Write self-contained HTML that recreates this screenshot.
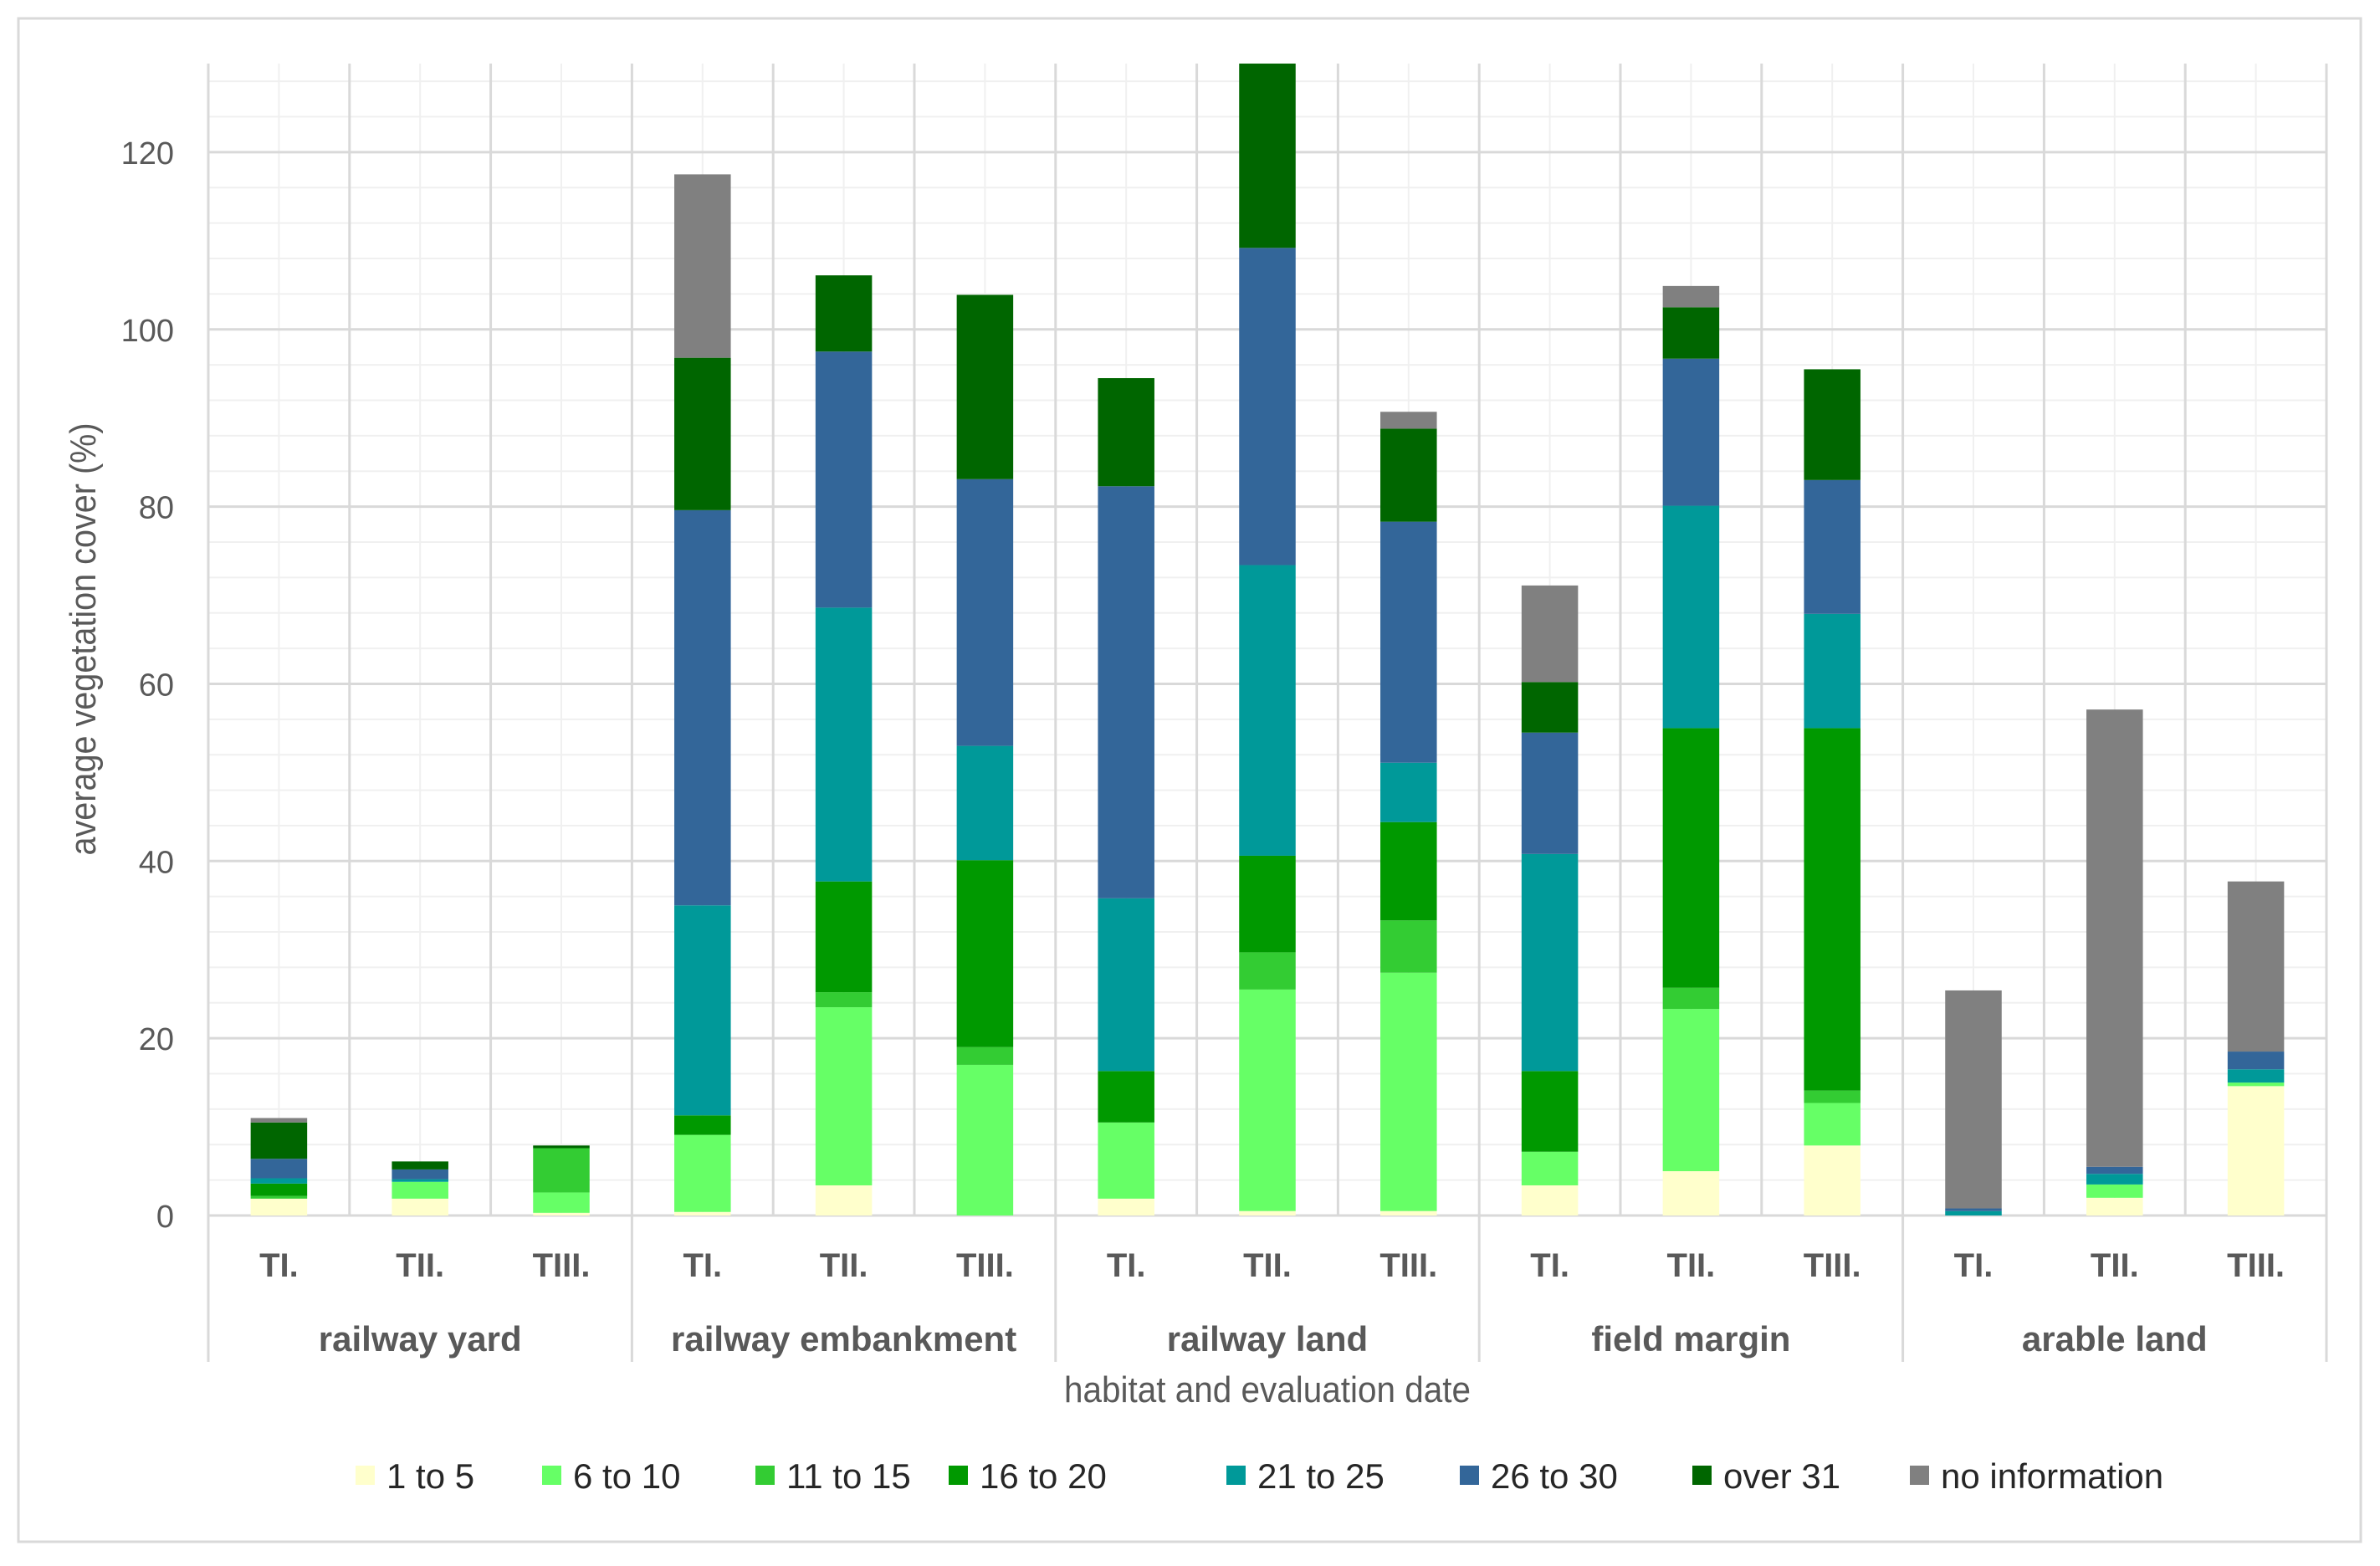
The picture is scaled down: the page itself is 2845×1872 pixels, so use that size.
<!DOCTYPE html>
<html><head><meta charset="utf-8"><style>
html,body{margin:0;padding:0;background:#fff;}
svg{display:block;font-family:"Liberation Sans",sans-serif;}
</style></head><body>
<svg id="chart" width="2845" height="1872" viewBox="0 0 2845 1872" xmlns="http://www.w3.org/2000/svg">
<rect x="22" y="22" width="2800" height="1821" fill="#fff" stroke="#d9d9d9" stroke-width="3"/>
<g id="grid"></g><g id="bars"></g><g id="axes"></g><g id="legend"></g>
<text transform="translate(114,764) rotate(-90) scale(0.9,1)" text-anchor="middle" font-size="44" fill="#595959">average vegetation cover (%)</text>
<text transform="translate(1515,1676) scale(0.92,1)" text-anchor="middle" font-size="44" fill="#595959">habitat and evaluation date</text>
</svg>
<script>
const groups = ["railway yard","railway embankment","railway land","field margin","arable land"];
const dates = ["TI.","TII.","TIII."];
const seriesNames = ["1 to 5","6 to 10","11 to 15","16 to 20","21 to 25","26 to 30","over 31","no information"];
const seriesColors = ["#FFFFCC","#66FF66","#33CC33","#009900","#009999","#336699","#006600","#808080"];
const s1to5   = [1.9,1.9,0.3, 0.4,3.4,0, 1.9,0.5,0.5, 3.4,5.0,7.9, 0,2.0,14.6];
const s6to10  = [0,1.9,2.3, 8.7,20.1,17.0, 8.6,25.0,26.9, 3.8,18.3,4.8, 0,1.5,0.4];
const s11to15 = [0.3,0,5.0, 0,1.7,2.0, 0,4.2,5.9, 0,2.4,1.4, 0,0,0];
const s16to20 = [1.4,0,0, 2.2,12.5,21.1, 5.8,10.9,11.1, 9.1,29.3,40.9, 0,0,0];
const s21to25 = [0.6,0.3,0, 23.7,30.9,12.9, 19.5,32.8,6.7, 24.5,25.1,12.9, 0.5,1.2,1.5];
const s26to30 = [2.2,1.1,0, 44.6,28.9,30.1, 46.5,35.8,27.2, 13.7,16.6,15.1, 0.3,0.8,2.0];
const sOver31 = [4.1,0.9,0.3, 17.2,8.6,20.8, 12.2,20.9,10.5, 5.7,5.8,12.5, 0,0,0];
const sNoInfo = [0.5,0,0, 20.7,0,0, 0,0,1.9, 10.9,2.4,0, 24.6,51.6,19.2];
const yTicks = [0,20,40,60,80,100,120];
const series = [s1to5,s6to10,s11to15,s16to20,s21to25,s26to30,sOver31,sNoInfo];

const NS="http://www.w3.org/2000/svg";
const L=249,R=2781,T=76,B=1453,YMAX=130;
const nSlots=groups.length*dates.length, slotW=(R-L)/nSlots, barW=slotW*0.4;
const y=v=>B-(v/YMAX)*(B-T);
const xc=i=>L+slotW*(i+0.5);
function mk(tag,attrs,parent){const e=document.createElementNS(NS,tag);for(const k in attrs)e.setAttribute(k,attrs[k]);parent.appendChild(e);return e;}
const grid=document.getElementById('grid'),bars=document.getElementById('bars'),axes=document.getElementById('axes'),legend=document.getElementById('legend');
for(let v=4;v<=YMAX;v+=4){if(v%20===0)continue;const l=mk('line',{x1:L,x2:R,y1:y(v),y2:y(v),stroke:'#f0f0f0','stroke-width':2},grid);

}
for(let i=0;i<nSlots;i++){const l=mk('line',{x1:xc(i),x2:xc(i),y1:T,y2:B,stroke:'#f0f0f0','stroke-width':2},grid);

}
yTicks.forEach(v=>{const l=mk('line',{x1:L,x2:R,y1:y(v),y2:y(v),stroke:'#d9d9d9','stroke-width':3},grid);


const t=mk('text',{x:208,y:y(v)+14,'text-anchor':'end','font-size':38,fill:'#595959'},axes);t.textContent=v;

});
for(let i=0;i<=nSlots;i++){const isG=i%3===0;const l=mk('line',{x1:L+slotW*i,x2:L+slotW*i,y1:T,y2:isG?1628:B,stroke:'#d9d9d9','stroke-width':3},grid);

}
for(let i=0;i<nSlots;i++){let acc=0;series.forEach((s,k)=>{const v=s[i];if(v<=0)return;const top=Math.min(acc+v,YMAX);
const r=mk('rect',{x:xc(i)-barW/2,y:y(top),width:barW,height:y(acc)-y(top),fill:seriesColors[k]},bars);


acc+=v;});}
for(let i=0;i<nSlots;i++){const t=mk('text',{transform:`translate(${xc(i)},1526)`,'text-anchor':'middle','font-size':40,'font-weight':'bold',fill:'#595959'},axes);t.textContent=dates[i%3];

}
groups.forEach((g,j)=>{const t=mk('text',{transform:`translate(${L+slotW*(3*j+1.5)},1615)`,'text-anchor':'middle','font-size':42,'font-weight':'bold',fill:'#595959'},axes);t.textContent=g;

});
const lx=[425,648,903,1134,1466,1745,2023,2283];
seriesNames.forEach((n,k)=>{const g=mk('g',{},legend);


mk('rect',{x:lx[k],y:1752,width:23,height:23,fill:seriesColors[k]},g);
const t=mk('text',{transform:`translate(${lx[k]+37},1779)`,'font-size':42,fill:'#262626'},g);t.textContent=n;});
</script>
</body></html>
